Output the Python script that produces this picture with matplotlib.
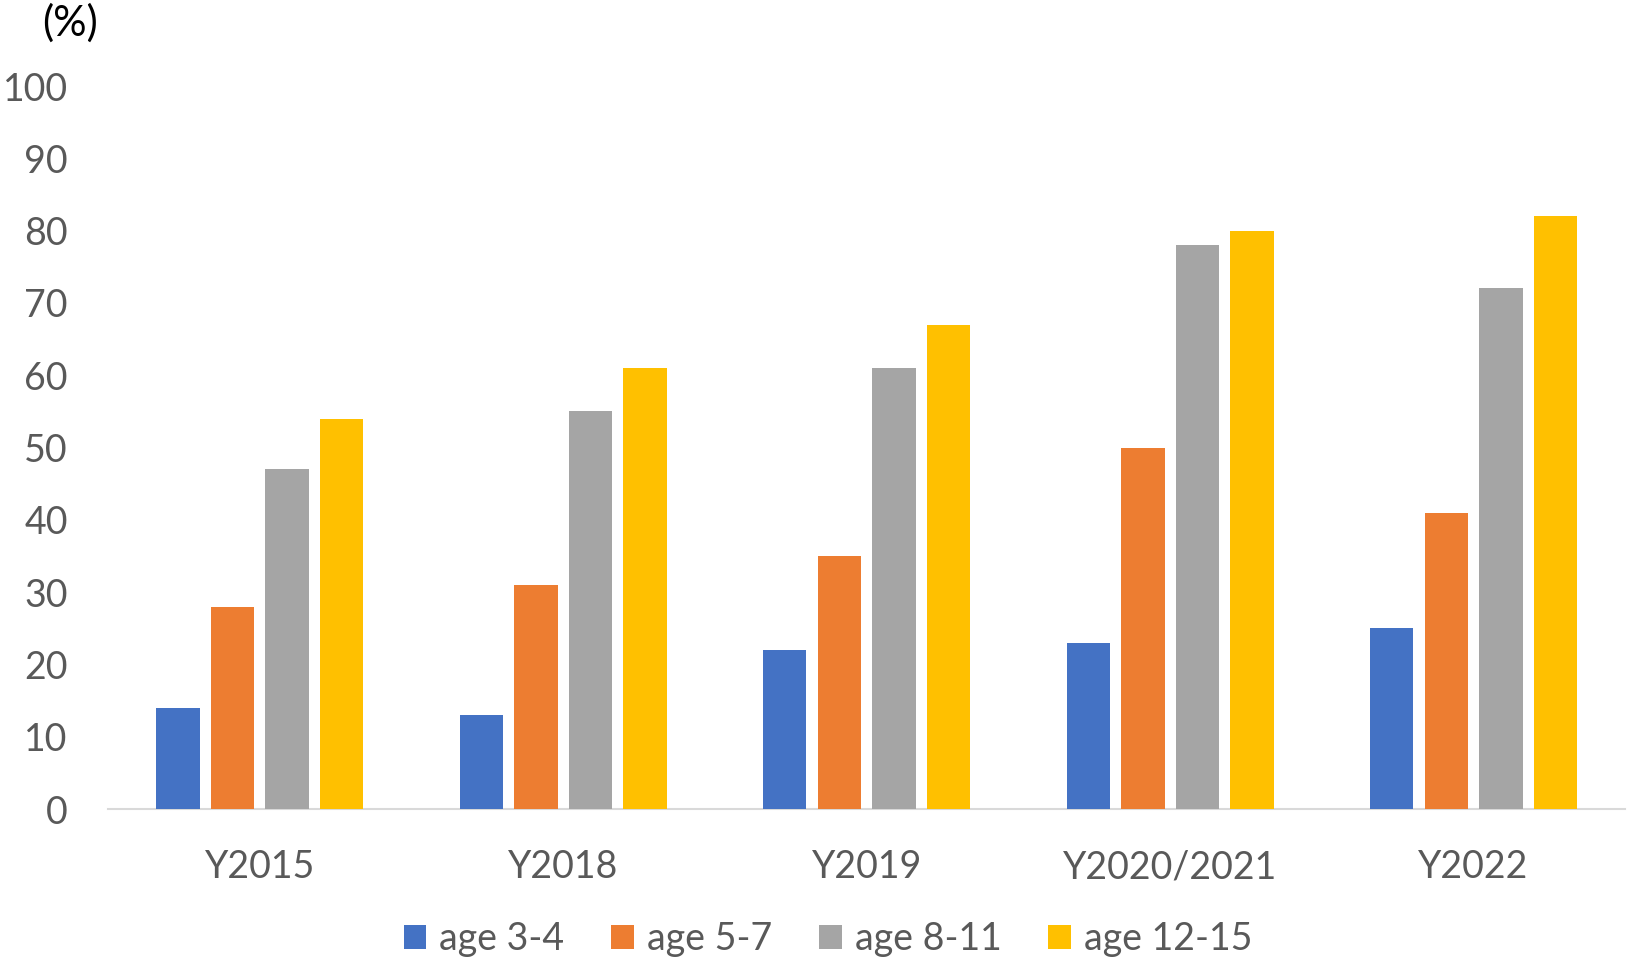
import matplotlib
matplotlib.use("Agg")
import matplotlib.pyplot as plt
import numpy as np
from matplotlib.patches import Patch

categories = ["Y2015", "Y2018", "Y2019", "Y2020/2021", "Y2022"]
series_names = ["age 3-4", "age 5-7", "age 8-11", "age 12-15"]
age_3_4 = [14, 13, 22, 23, 25]
age_5_7 = [28, 31, 35, 50, 41]
age_8_11 = [47, 55, 61, 78, 72]
age_12_15 = [54, 61, 67, 80, 82]
yticks = [0, 10, 20, 30, 40, 50, 60, 70, 80, 90, 100]

series = [age_3_4, age_5_7, age_8_11, age_12_15]
colors = ["#4472C4", "#ED7D31", "#A5A5A5", "#FFC000"]

plt.rcParams['font.family'] = ['Lato', 'DejaVu Sans']

fig = plt.figure(figsize=(16.27, 9.61), dpi=100)
ax = fig.add_axes([0.0664, 0.158, 0.9326, 0.7525])

x = np.arange(len(categories))
step = 0.18
width = 0.143
for i, (vals, c) in enumerate(zip(series, colors)):
    ax.bar(x + (i - 1.5) * step, vals, width=width, color=c, label=series_names[i], zorder=3)

ax.set_xlim(-0.5, len(categories) - 0.5)
ax.set_ylim(0, 100)
ax.set_yticks(yticks)
ax.set_xticks(x)
ax.set_xticklabels(categories)
for s in ["top", "right", "left"]:
    ax.spines[s].set_visible(False)
ax.spines["bottom"].set_color("#D9D9D9")
ax.spines["bottom"].set_linewidth(1.5)
ax.tick_params(axis="both", length=0, labelsize=27, labelcolor="#595959")
ax.tick_params(axis="y", pad=29)
ax.tick_params(axis="x", pad=29)
for lab in ax.get_yticklabels():
    lab.set_horizontalalignment("right")

fig.text(0.043, 0.976, "(%)", fontsize=30, color="black", ha="center", va="center")

handles = [Patch(facecolor=c, edgecolor="none") for c in colors]
fig.legend(handles, series_names, loc="center", bbox_to_anchor=(0.509, 0.023), ncol=4,
           frameon=False, fontsize=27, labelcolor="#595959",
           handlelength=0.6, handleheight=0.6, handletextpad=0.35, columnspacing=1.25,
           borderpad=0)

fig.savefig("out.png", dpi=100)
